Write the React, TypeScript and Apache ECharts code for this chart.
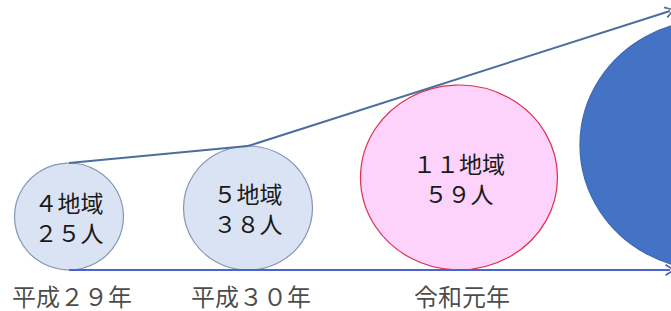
import React, { useEffect, useRef } from "react";
import * as echarts from "echarts";

// ---- data ----
const categories = ["平成２９年", "平成３０年", "令和元年", ""];
const regionCounts = [4, 5, 11, null];
const peopleCounts = [25, 38, 59, null];

// ---- layout (pixel-like units of the hidden axes) ----
const centerX = [69, 248, 459, 711];
const circleW = [109, 129, 197, 262];
const circleH = [107, 124, 185, 250];
const baseY = 270;
const arrowEndX = 670;
const upperEndY = 11;

const fills = ["#dae3f3", "#dae3f3", "#fdd3fb", "#4472c4"];
const strokes = ["#8597b3", "#8597b3", "#dd3350", "#3f68b5"];

const fw = (n: number) =>
  String(n).replace(/\d/g, (d) => String.fromCharCode(d.charCodeAt(0) + 0xfee0));

const FONT = '"Noto Sans CJK JP", "Noto Sans", sans-serif';
const chevron = "path://M0,9 L5,0 L10,9 L8.7,10 L5,2.6 L1.3,10 Z";

export default function App() {
  const ref = useRef<HTMLDivElement>(null);
  useEffect(() => {
    document.body.style.margin = "0";
    const chart = echarts.init(ref.current!, null, { renderer: "svg" });
    const circles = centerX.map((cx, i) => ({
      value: [cx, baseY - circleH[i] / 2],
      symbolSize: [circleW[i], circleH[i]],
      itemStyle: { color: fills[i], borderColor: strokes[i], borderWidth: 1.2, opacity: 1 },
      label: {
        show: regionCounts[i] != null,
        formatter:
          regionCounts[i] != null
            ? `${fw(regionCounts[i] as number)}地域\n${fw(peopleCounts[i] as number)}人`
            : "",
      },
    }));
    const tops = [0, 1].map((i) => [centerX[i], baseY - circleH[i]]);
    chart.setOption({
      animation: false,
      grid: { left: 0, right: 0, top: 0, bottom: 0 },
      xAxis: { type: "value", min: 0, max: 671, show: false },
      yAxis: { type: "value", min: 0, max: 311, inverse: true, show: false },
      series: [
        {
          type: "line",
          data: tops,
          symbol: "none",
          z: 3,
          lineStyle: { color: "#4d6d9d", width: 2 },
          markLine: {
            silent: true,
            symbol: ["none", chevron],
            symbolSize: [12, 10],
            label: { show: false },
            data: [
              [
                { coord: tops[1], lineStyle: { color: "#4d6d9d", width: 2, type: "solid" }, itemStyle: { color: "#4d6d9d" } },
                { coord: [arrowEndX, upperEndY] },
              ],
              [
                { coord: [centerX[0], baseY], lineStyle: { color: "#4a62d2", width: 2, type: "solid" }, itemStyle: { color: "#4a62d2" } },
                { coord: [arrowEndX, baseY] },
              ],
            ],
          },
        },
        {
          type: "scatter",
          symbol: "circle",
          clip: false,
          z: 2,
          data: circles,
          label: {
            position: "inside",
            color: "#1a1a1a",
            fontFamily: FONT,
            fontSize: 23,
            lineHeight: 30,
          },
        },
        {
          type: "scatter",
          symbolSize: 0,
          clip: false,
          data: centerX.slice(0, 3).map((cx, i) => ({ value: [cx + 3, baseY], name: categories[i] })),
          label: {
            show: true,
            position: "bottom",
            distance: 13,
            formatter: "{b}",
            color: "#1a1a1a",
            fontFamily: FONT,
            fontSize: 24,
            lineHeight: 24,
          },
        },
      ],
    });
    return () => chart.dispose();
  }, []);
  return <div ref={ref} style={{ width: 671, height: 311 }} />;
}
